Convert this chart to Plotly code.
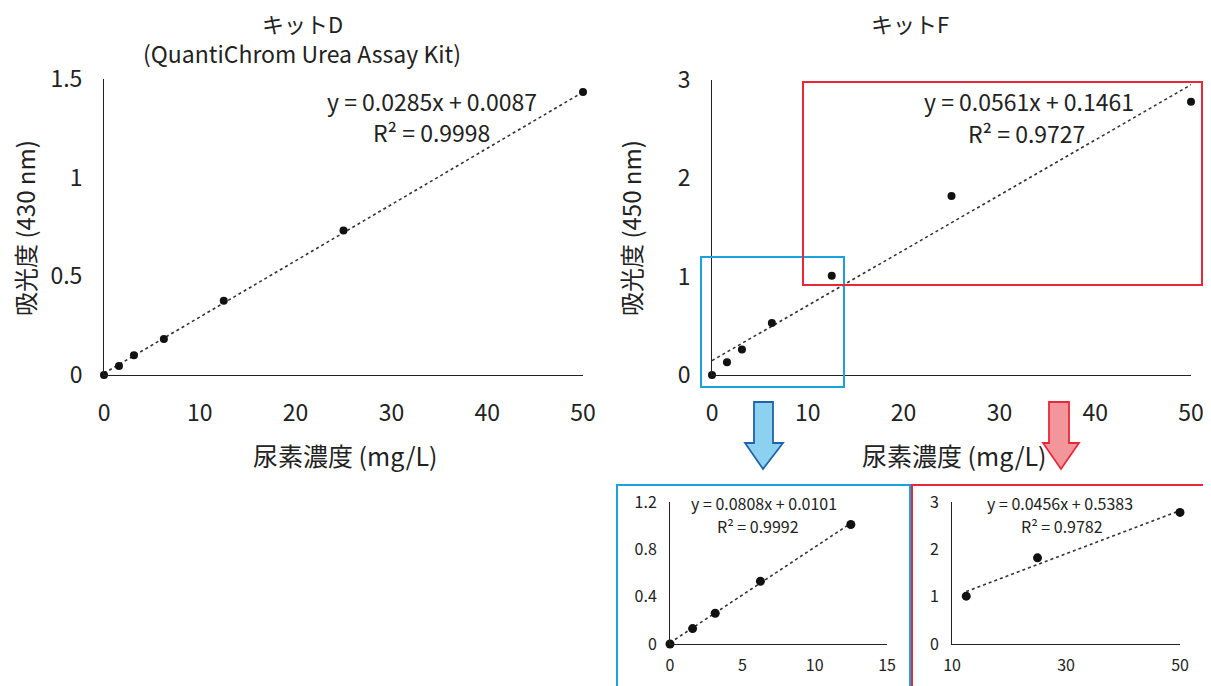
import plotly.graph_objects as go

W, H = 1211, 686
OFF = 8  # page body margin in the browser

# ---------------- data ----------------
conc = [0, 1.5625, 3.125, 6.25, 12.5, 25, 50]
kitD_abs = [0, 0.046, 0.10, 0.183, 0.376, 0.732, 1.434]
kitF_abs = [0, 0.13, 0.26, 0.53, 1.01, 1.82, 2.78]

fitD = (0.0285, 0.0087, "0.9998")
fitF = (0.0561, 0.1461, "0.9727")
fitF_low = (0.0808, 0.0101, "0.9992")
fitF_high = (0.0456, 0.5383, "0.9782")

titleD = "キットD"
subtitleD = "(QuantiChrom Urea Assay Kit)"
titleF = "キットF"
xtitle = "尿素濃度 (mg/L)"
ytitleD = "吸光度 (430 nm)"
ytitleF = "吸光度 (450 nm)"

FONT = "Noto Sans CJK JP"
TXT = "#222222"
BLUE = "#1ba1dd"
RED = "#e8283a"


def px(x):
    return (x - OFF) / W


def py(y):
    return 1 - (y - OFF) / H


fig = go.Figure()


def add_points(xs, ys, xa, ya, size):
    fig.add_trace(go.Scatter(x=xs, y=ys, mode="markers", xaxis=xa, yaxis=ya,
                             marker=dict(color="#111111", size=size),
                             cliponaxis=False, showlegend=False, hoverinfo="x+y"))


def add_trend(fit, x0, x1, xa, ya):
    m, b, _ = fit
    xs = [x0, x1]
    ys = [m * v + b for v in xs]
    fig.add_trace(go.Scatter(x=xs, y=ys, mode="lines", xaxis=xa, yaxis=ya,
                             line=dict(color="#333333", width=1.6, dash="dot"),
                             cliponaxis=False, showlegend=False, hoverinfo="skip"))


# main D
add_trend(fitD, conc[0], conc[-1], "x", "y")
add_points(conc, kitD_abs, "x", "y", 8)
# main F
add_trend(fitF, conc[0], conc[-1], "x2", "y2")
add_points(conc, kitF_abs, "x2", "y2", 8)
# inset low
add_trend(fitF_low, conc[0], conc[4], "x3", "y3")
add_points(conc[:5], kitF_abs[:5], "x3", "y3", 9)
# inset high
add_trend(fitF_high, conc[4], conc[-1], "x4", "y4")
add_points(conc[4:], kitF_abs[4:], "x4", "y4", 9)


def axis(domain, rng, dtick, size, standoff, anchor):
    return dict(domain=domain, range=rng, dtick=dtick, tick0=rng[0],
                showline=True, linecolor="#222222", linewidth=1,
                showgrid=False, zeroline=False, ticks="", automargin=False,
                tickfont=dict(family=FONT, size=size, color=TXT),
                ticklabelstandoff=standoff, anchor=anchor, fixedrange=True)


layout = dict(
    template="none",
    width=W, height=H, autosize=False,
    margin=dict(l=0, r=0, t=0, b=0, pad=0),
    paper_bgcolor="white", plot_bgcolor="white",
    showlegend=False,
    xaxis=axis([px(104), px(583)], [0, 50], 10, 23, 17, "y"),
    yaxis=axis([py(375), py(79)], [0, 1.5], 0.5, 23, 16, "x"),
    xaxis2=axis([px(712), px(1191)], [0, 50], 10, 23, 17, "y2"),
    yaxis2=axis([py(375), py(80)], [0, 3], 1, 23, 16, "x2"),
    xaxis3=axis([px(670), px(887)], [0, 15], 5, 16, 7, "y3"),
    yaxis3=axis([py(644), py(502)], [0, 1.2], 0.4, 16, 9, "x3"),
    xaxis4=axis([px(952), px(1180)], [10, 50], 20, 16, 7, "y4"),
    yaxis4=axis([py(644), py(502)], [0, 3], 1, 16, 9, "x4"),
)
fig.update_layout(**layout)

ann = []


def text(x, y, s, size, angle=0):
    ann.append(dict(x=px(x), y=py(y), xref="paper", yref="paper", text=s,
                    showarrow=False, xanchor="center", yanchor="middle", align="center",
                    textangle=angle, font=dict(family=FONT, size=size, color=TXT)))


text(302, 23, titleD, 22)
text(302, 53, subtitleD, 23)
text(910, 23, titleF, 22)
text(345, 455, xtitle, 25)
text(954, 455, xtitle, 25)
text(25, 228, ytitleD, 24, -90)
text(631, 228, ytitleF, 24, -90)


def eq(fit):
    m, b, r2 = fit
    return f"y = {m}x + {b}", f"R² = {r2}"


a, b = eq(fitD)
text(432, 101, a, 23)
text(431, 132, b, 23)
a, b = eq(fitF)
text(1029, 101, a, 23)
text(1027, 133, b, 23)
a, b = eq(fitF_low)
text(764, 503, a, 16)
text(758, 526, b, 16)
a, b = eq(fitF_high)
text(1060, 503, a, 16)
text(1062, 526, b, 16)

fig.update_layout(annotations=ann)

shapes = []


def prect(x0, x1, y0, y1, color):
    shapes.append(dict(type="rect", xref="paper", yref="paper", x0=px(x0), x1=px(x1),
                       y0=py(y1), y1=py(y0), line=dict(color=color, width=2)))


# zoom rectangles in main F
prect(701, 844, 257, 387, BLUE)
prect(803, 1202, 82, 285, RED)
# inset frames
prect(617, 910, 485, 720, BLUE)
prect(912, 1209, 485, 720, RED)


def arrow(cx, sx0, sx1, hx0, hx1, ytop, ybase, ytip, fill, line):
    pts = [(sx0, ytop), (sx1, ytop), (sx1, ybase), (hx1, ybase), (cx, ytip),
           (hx0, ybase), (sx0, ybase)]
    path = "M " + " L ".join(f"{px(a):.5f},{py(b):.5f}" for a, b in pts) + " Z"
    shapes.append(dict(type="path", xref="paper", yref="paper", path=path,
                       fillcolor=fill, line=dict(color=line, width=1.8)))


arrow(763, 754, 773, 745, 783, 402, 443, 469, "#8dd1f0", "#1f63a8")
arrow(1061, 1049, 1069, 1043, 1079, 402, 443, 469, "#f2969b", RED)

fig.update_layout(shapes=shapes)

fig.write_html("out.html")
